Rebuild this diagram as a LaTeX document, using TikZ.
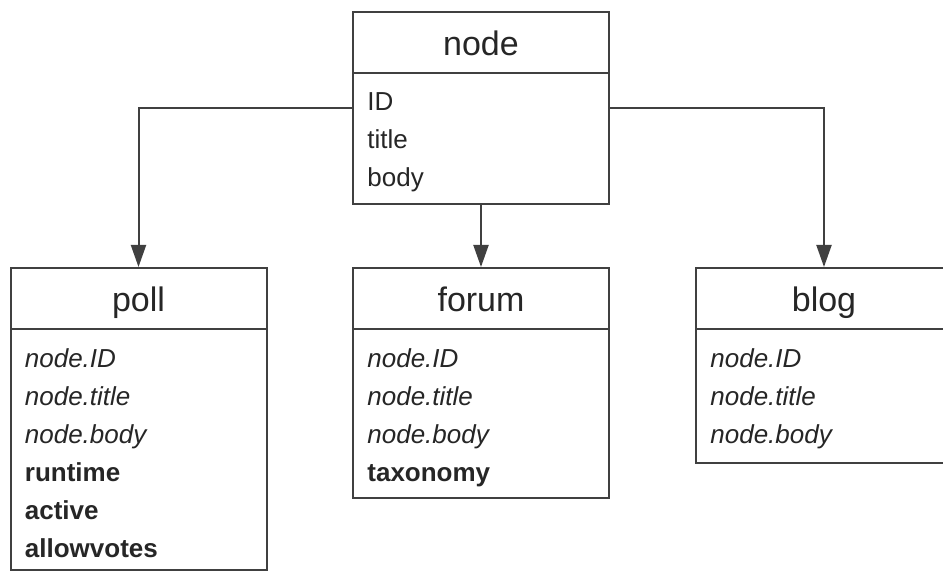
\documentclass[tikz,border=0pt]{standalone}
\usepackage{fontspec}
\setmainfont{Liberation Sans}
\usetikzlibrary{arrows.meta,positioning,calc}
\tikzstyle{classbox}=[draw=black!75, line width=1pt, minimum width=128pt, inner sep=0pt]
\tikzstyle{classhead}=[draw=black!75, line width=1pt, minimum width=128pt, minimum height=30.5pt, inner sep=0pt, anchor=north, text height=13pt, text depth=0pt, font=\fontsize{17}{20}\selectfont, text=black!85]
\tikzstyle{fields}=[anchor=north west, inner sep=0pt, align=left, font=\fontsize{13}{19}\selectfont, text=black!85]
\tikzstyle{link}=[draw=black!75, line width=1pt, -{Triangle[length=11pt,width=7.5pt]}]

\begin{document}
\begin{tikzpicture}[x=0.5pt,y=-0.5pt]
				\useasboundingbox[fill=white](0,0)rectangle(943,571);
				\clip(0,0)rectangle(943,571);
				% parent
				\node[classbox, minimum height=96pt](node)at(481,108){};
				\node[classhead](nodeH)at(node.north){node};
				\node[fields](nodeF)at([xshift=7.5pt,yshift=-9pt]nodeH.south west){ID\\title\\body};
				% children
				\node[classbox, minimum height=151pt](poll)at(138.5,419){};
				\node[classhead](pollH)at(poll.north){poll};
				\node[fields](pollF)at([xshift=7.5pt,yshift=-9pt]pollH.south west){\textit{node.ID}\\\textit{node.title}\\\textit{node.body}\\\textbf{runtime}\\\textbf{active}\\\textbf{allowvotes}};
				\node[classbox, minimum height=115pt](forum)at(481,383){};
				\node[classhead](forumH)at(forum.north){forum};
				\node[fields](forumF)at([xshift=7.5pt,yshift=-9pt]forumH.south west){\textit{node.ID}\\\textit{node.title}\\\textit{node.body}\\\textbf{taxonomy}};
				\node[classbox, minimum height=97.5pt](blog)at(824,365.5){};
				\node[classhead](blogH)at(blog.north){blog};
				\node[fields](blogF)at([xshift=7.5pt,yshift=-9pt]blogH.south west){\textit{node.ID}\\\textit{node.title}\\\textit{node.body}};
				% inheritance
				\draw[link](node.west)-|(poll.north);
				\draw[link](node.south)--(forum.north);
				\draw[link](node.east)-|(blog.north);
			\end{tikzpicture}
\end{document}
